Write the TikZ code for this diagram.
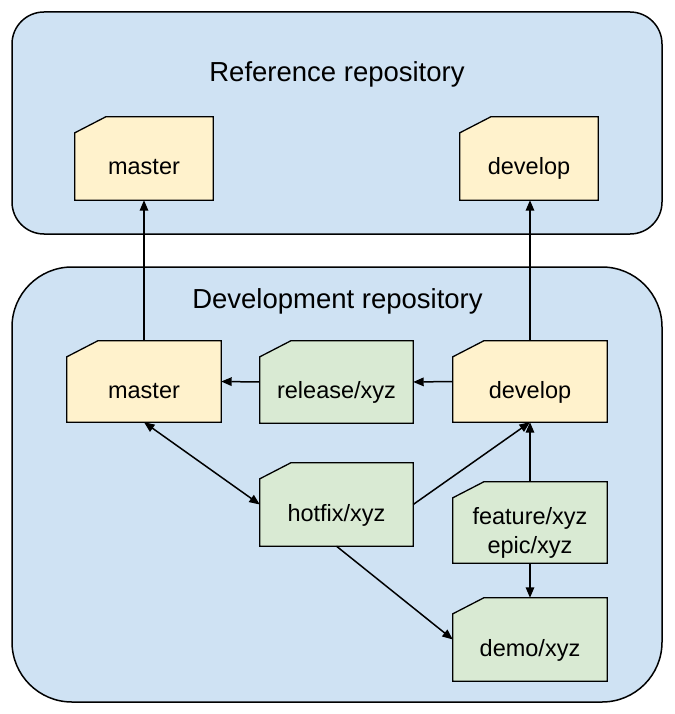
\documentclass[tikz,border=0pt]{standalone}
\usepackage{fontspec}
\setmainfont{Liberation Sans}
\usetikzlibrary{arrows.meta,calc}
\definecolor{repoblue}{HTML}{CFE2F3}
\definecolor{cardyellow}{HTML}{FFF2CC}
\definecolor{cardgreen}{HTML}{D9EAD3}
\pgfdeclarelayer{back}
\pgfdeclarelayer{mid}
\pgfsetlayers{back,mid,main}
\tikzset{
  repo/.style={draw=black, line width=1.5pt, fill=repoblue},
  repotitle/.style={anchor=base, inner sep=0pt, font=\fontsize{27.5}{33}\selectfont},
  card/.style={rectangle, inner sep=0pt, minimum width=154pt, minimum height=82pt,
    font=\fontsize{23.5}{29}\selectfont, align=center, text height=33pt, text depth=0pt},
  cardline/.style={draw=black, line width=1.3pt, line join=miter},
  conn/.style={draw=black, line width=1.5pt, -{Triangle[length=10.5pt,width=8.5pt]}},
  biconn/.style={draw=black, line width=1.5pt, {Triangle[length=10.5pt,width=8.5pt]}-{Triangle[length=10.5pt,width=8.5pt]}}
}
\newcommand{\cardshape}[2]{%
  \filldraw[cardline, fill=#2] ($(#1.north west)+(0,16)$) -- ($(#1.north west)+(31,0)$)
    -- (#1.north east) -- (#1.south east) -- (#1.south west) -- cycle;}
\begin{document}
\begin{tikzpicture}[x=1pt,y=-1pt]
\useasboundingbox (0,0) rectangle (674,714);
% repositories
\begin{pgfonlayer}{back}
  \path[repo, rounded corners=32pt] (12,12) rectangle (662,234);
  \path[repo, rounded corners=60pt] (12,267) rectangle (662,702);
\end{pgfonlayer}
\node[repotitle] (reftitle) at (337,82) {Reference repository};
\node[repotitle] (devtitle) at (337.5,308) {Development repository};
% cards
\node[card, minimum width=138pt, minimum height=83pt] (masterR) at (144,158.5) {master};
\node[card, minimum width=138pt, minimum height=83pt] (developR) at (529,158.5) {develop};
\node[card, minimum height=81pt] (masterD) at (144,381.5) {master};
\node[card, minimum width=153pt] (release) at (336.5,382) {release/xyz};
\node[card, minimum height=81pt] (developD) at (530,381.5) {develop};
\node[card, minimum width=153pt, minimum height=83pt] (hotfix) at (336.5,504.5) {hotfix/xyz};
\node[card, minimum height=81pt, text height=61pt, text depth=0pt] (feature) at (530,522.5) {feature/xyz\\epic/xyz};
\node[card, minimum height=83pt] (demo) at (530,639.5) {demo/xyz};
\begin{pgfonlayer}{mid}
  \cardshape{masterR}{cardyellow}
  \cardshape{developR}{cardyellow}
  \cardshape{masterD}{cardyellow}
  \cardshape{release}{cardgreen}
  \cardshape{developD}{cardyellow}
  \cardshape{hotfix}{cardgreen}
  \cardshape{feature}{cardgreen}
  \cardshape{demo}{cardgreen}
\end{pgfonlayer}
% connectors
\draw[conn] (masterD.north) -- (masterR.south);
\draw[conn] (developD.north) -- (developD.north |- developR.south);
\draw[conn] (release.west) -- (masterD.east);
\draw[conn] (developD.west) -- (release.east);
\draw[biconn] (masterD.south) -- (hotfix.west);
\draw[conn] (hotfix.east) -- (developD.south);
\draw[conn] (feature.north) -- (developD.south);
\draw[conn] (feature.south) -- (demo.north);
\draw[conn] (hotfix.south) -- (demo.west);
\end{tikzpicture}
\end{document}
